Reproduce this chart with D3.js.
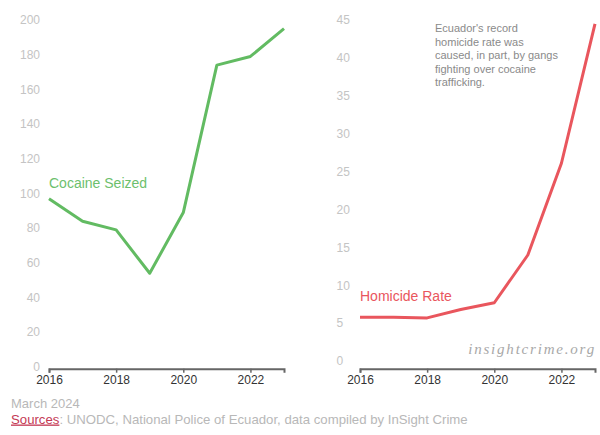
<!DOCTYPE html>
<html>
<head>
<meta charset="utf-8">
<script src="https://cdn.jsdelivr.net/npm/d3@7"></script>
<style>
  body { margin: 0; background: #fff; }
  svg { display: block; font-family: "Liberation Sans", Arial, sans-serif; }
</style>
</head>
<body>
<div id="chart"></div>
<script>
// Ecuador: cocaine seized (tons) vs homicide rate (per 100k)
const years = [2016, 2017, 2018, 2019, 2020, 2021, 2022, 2023];
const cocaineSeized = [97, 84, 79, 54, 89, 174, 179, 195];
const homicideRate = [5.8, 5.8, 5.7, 6.8, 7.7, 14.0, 26.1, 44.5];
const xTicks = [2016, 2018, 2020, 2022];
const cocaineTicks = [0, 20, 40, 60, 80, 100, 120, 140, 160, 180, 200];
const homicideTicks = [0, 5, 10, 15, 20, 25, 30, 35, 40, 45];
const noteLines = ["Ecuador's record", "homicide rate was", "caused, in part, by gangs", "fighting over cocaine", "trafficking."];

const W = 600, H = 435;
const svg = d3.select("#chart").append("svg").attr("width", W).attr("height", H);

const axisY = 368.7;

function panel(opts) {
  const x = d3.scaleLinear().domain([2016, 2023]).range(opts.xRange);
  const y = d3.scaleLinear().domain(opts.yDomain).range([axisY, 20]);
  const g = svg.append("g");

  // y tick labels (no axis line)
  g.selectAll(".ylab")
    .data(opts.yTicks)
    .join("text")
    .attr("x", opts.labelX)
    .attr("y", d => y(d))
    .attr("dy", "0.35em")
    .attr("text-anchor", opts.labelAnchor)
    .attr("font-size", 12)
    .attr("fill", "#c4c4c4")
    .text(d => d);

  // bottom axis
  const xAxis = d3.axisBottom(x).tickValues(xTicks).tickFormat(d3.format("d")).tickSize(4).tickPadding(3);
  const ax = g.append("g").attr("transform", `translate(0,${axisY})`).call(xAxis);
  ax.select(".domain").attr("stroke", "#666").attr("stroke-width", 2);
  ax.selectAll(".tick line").attr("stroke", "#666").attr("stroke-width", 1.5);
  ax.selectAll(".tick text")
    .attr("font-size", 12)
    .attr("font-family", "Liberation Sans, Arial, sans-serif")
    .attr("fill", "#333");

  const line = d3.line().x((d, i) => x(years[i])).y(d => y(d));
  g.append("path")
    .datum(opts.values)
    .attr("d", line)
    .attr("fill", "none")
    .attr("stroke", opts.color)
    .attr("stroke-width", 3)
    .attr("stroke-linejoin", "round");

  g.append("text")
    .attr("x", opts.xRange[0])
    .attr("y", opts.labelBaseline)
    .attr("font-size", 14)
    .attr("fill", opts.labelColor)
    .text(opts.label);

  return { x, y, g };
}

panel({
  xRange: [49, 284],
  yDomain: [-1, 200],
  yTicks: cocaineTicks,
  labelX: 40,
  labelAnchor: "end",
  values: cocaineSeized,
  color: "#62bb62",
  labelColor: "#6dbf6d",
  label: "Cocaine Seized",
  labelBaseline: 188
});

panel({
  xRange: [360, 595],
  yDomain: [-1, 45],
  yTicks: homicideTicks,
  labelX: 336.5,
  labelAnchor: "start",
  values: homicideRate,
  color: "#e9565d",
  labelColor: "#e9565d",
  label: "Homicide Rate",
  labelBaseline: 300.5
});

// annotation
svg.append("text")
  .attr("font-size", 11)
  .attr("fill", "#8a8a8a")
  .selectAll("tspan")
  .data(noteLines)
  .join("tspan")
  .attr("x", 435)
  .attr("y", (d, i) => 32 + i * 13.6)
  .text(d => d);

// watermark
svg.append("text")
  .attr("x", 596)
  .attr("y", 354)
  .attr("text-anchor", "end")
  .attr("font-family", "Liberation Serif, Times New Roman, serif")
  .attr("font-style", "italic")
  .attr("font-size", 15)
  .attr("letter-spacing", 1.8)
  .attr("fill", "#a8a8a8")
  .text("insightcrime.org");

// footer
svg.append("text")
  .attr("x", 11)
  .attr("y", 408)
  .attr("font-size", 13)
  .attr("fill", "#b8b8b8")
  .text("March 2024");

const src = svg.append("text")
  .attr("x", 11)
  .attr("y", 423.5)
  .attr("font-size", 13.2)
  .attr("fill", "#b8b8b8");
src.append("tspan")
  .attr("fill", "#c43a55")
  .attr("text-decoration", "underline")
  .text("Sources");
src.append("tspan").text(": UNODC, National Police of Ecuador, data compiled by InSight Crime");
</script>
</body>
</html>
